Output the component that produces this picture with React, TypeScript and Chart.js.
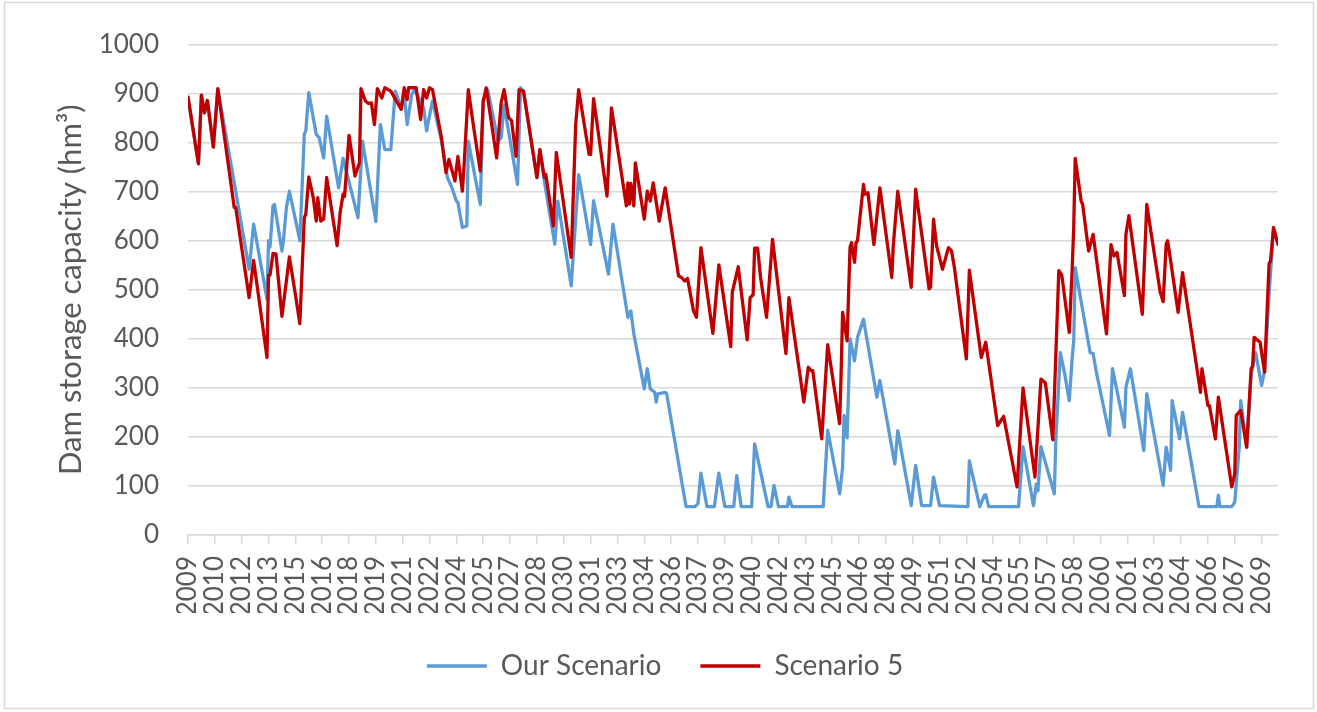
import React, { useEffect, useRef } from "react";
import { Chart, registerables } from "chart.js";

Chart.register(...registerables);

// Months counted from January 2009 (monthly series, 732 months up to Dec 2069)
const tickMonths = [0, 18, 36, 54, 72, 90, 108, 126, 144, 162, 180, 198, 216, 234, 252, 270, 288, 306, 324, 342, 360, 378, 396, 414, 432, 450, 468, 486, 504, 522, 540, 558, 576, 594, 612, 630, 648, 666, 684, 702, 720];
const tickLabels = ["2009", "2010", "2012", "2013", "2015", "2016", "2018", "2019", "2021", "2022", "2024", "2025", "2027", "2028", "2030", "2031", "2033", "2034", "2036", "2037", "2039", "2040", "2042", "2043", "2045", "2046", "2048", "2049", "2051", "2052", "2054", "2055", "2057", "2058", "2060", "2061", "2063", "2064", "2066", "2067", "2069"];

const yTicks = [0, 100, 200, 300, 400, 500, 600, 700, 800, 900, 1000];

const seriesNames = ["Our Scenario", "Scenario 5"];

const ourScenarioMonth = [0, 7, 9, 11, 13, 17, 20, 32, 41, 44, 53, 54, 55, 57, 58, 63, 64, 66, 68, 73, 75, 78, 79, 81, 86, 88, 91, 93, 101, 104, 114, 117, 126, 129, 132, 136, 139, 143, 145, 147, 150, 152, 156, 158, 160, 163, 164, 170, 174, 177, 180, 181, 184, 187, 188, 196, 198, 201, 208, 210, 212, 221, 223, 225, 234, 236, 239, 246, 248, 257, 262, 270, 272, 282, 285, 295, 297, 299, 306, 308, 310, 313, 314, 315, 320, 321, 334, 340, 342, 344, 348, 353, 356, 360, 366, 368, 371, 378, 380, 389, 391, 393, 396, 402, 403, 405, 426, 429, 437, 439, 440, 442, 444, 447, 449, 453, 462, 464, 474, 476, 485, 488, 492, 498, 500, 504, 523, 524, 531, 534, 535, 537, 557, 560, 567, 569, 570, 572, 581, 582, 585, 588, 591, 593, 594, 595, 605, 607, 609, 618, 620, 628, 629, 632, 641, 643, 654, 656, 659, 660, 665, 667, 678, 690, 691, 692, 700, 702, 705, 706, 710, 713, 716, 720, 722, 725, 728, 731];
const ourScenarioValue = [893, 757, 897, 861, 886, 791, 910, 701, 542, 634, 481, 600, 587, 671, 674, 579, 600, 668, 701, 630, 600, 817, 824, 902, 817, 810, 769, 854, 708, 768, 647, 803, 639, 837, 786, 786, 905, 870, 898, 837, 898, 908, 885, 871, 824, 871, 885, 803, 729, 708, 681, 678, 627, 630, 803, 674, 885, 908, 803, 810, 877, 715, 912, 905, 729, 786, 721, 593, 681, 508, 735, 592, 682, 532, 634, 444, 457, 410, 298, 339, 298, 291, 271, 288, 291, 288, 58, 58, 64, 126, 58, 58, 126, 58, 58, 121, 58, 58, 186, 58, 58, 101, 58, 58, 77, 58, 58, 214, 84, 138, 244, 198, 400, 355, 403, 440, 281, 315, 145, 213, 60, 142, 60, 60, 118, 60, 58, 151, 58, 81, 82, 58, 58, 180, 60, 104, 90, 180, 84, 193, 372, 328, 274, 362, 396, 545, 372, 370, 335, 203, 339, 220, 301, 339, 172, 288, 101, 179, 132, 274, 196, 250, 58, 58, 81, 58, 58, 67, 179, 274, 179, 328, 372, 305, 335, 491, 623, 593];

const scenario5Month = [0, 7, 9, 11, 13, 17, 20, 31, 32, 41, 44, 53, 54, 55, 57, 59, 63, 68, 72, 75, 78, 79, 81, 84, 86, 87, 89, 91, 93, 100, 102, 104, 105, 108, 112, 115, 116, 119, 121, 123, 125, 127, 130, 132, 136, 143, 145, 147, 148, 153, 156, 158, 160, 162, 164, 170, 173, 175, 179, 181, 184, 185, 188, 191, 196, 198, 200, 207, 210, 212, 215, 217, 220, 222, 225, 234, 236, 239, 240, 245, 247, 257, 260, 262, 269, 270, 272, 281, 284, 294, 295, 296, 297, 299, 300, 306, 308, 310, 312, 316, 320, 329, 331, 333, 335, 339, 341, 344, 352, 356, 364, 365, 369, 375, 377, 379, 380, 382, 384, 388, 392, 401, 403, 413, 416, 418, 419, 425, 429, 437, 438, 439, 442, 444, 445, 447, 448, 449, 453, 454, 456, 460, 464, 472, 473, 476, 485, 488, 497, 498, 500, 502, 506, 510, 512, 514, 522, 524, 532, 535, 543, 547, 556, 560, 568, 572, 575, 580, 584, 586, 591, 593, 594, 595, 599, 600, 604, 607, 616, 619, 621, 623, 628, 629, 631, 640, 643, 652, 654, 656, 657, 659, 664, 667, 679, 680, 684, 685, 689, 691, 700, 702, 703, 706, 710, 713, 714, 715, 719, 722, 725, 726, 728, 731];
const scenario5Value = [893, 757, 897, 861, 886, 791, 910, 668, 668, 484, 560, 362, 529, 530, 574, 573, 446, 567, 491, 431, 647, 654, 730, 688, 640, 688, 640, 644, 729, 590, 657, 695, 690, 815, 732, 759, 910, 885, 880, 881, 837, 910, 891, 912, 905, 868, 912, 888, 912, 912, 847, 908, 891, 912, 908, 810, 739, 766, 722, 772, 701, 746, 908, 843, 742, 885, 912, 769, 881, 908, 851, 845, 772, 908, 905, 729, 786, 729, 735, 630, 780, 566, 837, 908, 776, 776, 890, 691, 871, 671, 718, 675, 717, 671, 759, 644, 701, 681, 718, 640, 708, 528, 525, 518, 523, 457, 444, 586, 411, 551, 384, 495, 547, 398, 484, 490, 585, 585, 525, 444, 603, 370, 484, 271, 342, 335, 335, 196, 388, 227, 328, 454, 396, 587, 596, 556, 596, 600, 715, 695, 698, 592, 708, 525, 590, 701, 505, 705, 502, 505, 644, 590, 542, 586, 580, 545, 359, 540, 362, 393, 223, 242, 98, 300, 118, 318, 310, 194, 539, 530, 413, 545, 627, 768, 681, 674, 579, 613, 410, 592, 569, 576, 488, 613, 651, 450, 674, 495, 476, 593, 600, 559, 454, 535, 291, 339, 264, 264, 196, 281, 98, 125, 244, 254, 179, 339, 345, 403, 393, 332, 553, 559, 627, 593];

const FONT = "Lato, 'Open Sans', sans-serif";
const TEXT = "#595959";
const GRID = "#d9d9d9";

function toPoints(months: number[], values: number[]) {
  return months.map((m, i) => ({ x: m, y: values[i] }));
}

export default function App() {
  const ref = useRef<HTMLCanvasElement | null>(null);

  useEffect(() => {
    const canvas = ref.current;
    if (!canvas) return;
    const frame = {
      id: "frame",
      beforeDraw(chart: any) {
        const c = chart.ctx;
        c.save();
        c.fillStyle = "#ffffff";
        c.fillRect(0, 0, chart.width, chart.height);
        c.strokeStyle = GRID;
        c.lineWidth = 1.5;
        c.strokeRect(4.5, 2.5, 1309, 706);
        c.restore();
      },
    };
    const lineStyle = {
      borderWidth: 3.3,
      pointRadius: 0,
      tension: 0,
      borderJoinStyle: "round",
      borderCapStyle: "round",
    };
    const chart = new Chart(canvas, {
      type: "line",
      data: {
        datasets: [
          {
            label: seriesNames[0],
            data: toPoints(ourScenarioMonth, ourScenarioValue),
            borderColor: "#5B9BD5",
            backgroundColor: "#5B9BD5",
            ...lineStyle,
            order: 1,
          },
          {
            label: seriesNames[1],
            data: toPoints(scenario5Month, scenario5Value),
            borderColor: "#C00000",
            backgroundColor: "#C00000",
            ...lineStyle,
            order: 0,
          },
        ],
      },
      options: {
        responsive: false,
        animation: false,
        layout: { padding: { left: 52, right: 39, top: 43, bottom: 22 } },
        scales: {
          x: {
            type: "linear",
            min: 0,
            max: 731,
            afterBuildTicks: (s: any) => {
              s.ticks = tickMonths.map((v) => ({ value: v }));
            },
            afterFit: (s: any) => {
              s.height = 78;
            },
            ticks: {
              autoSkip: false,
              maxRotation: 90,
              minRotation: 90,
              padding: 12,
              color: TEXT,
              font: { family: FONT, size: 26 },
              callback: (_v: any, i: number) => tickLabels[i],
            },
            grid: {
              drawOnChartArea: false,
              drawTicks: true,
              tickLength: 9,
              color: GRID,
              lineWidth: 1.5,
            },
            border: { color: GRID, width: 1.5 },
          },
          y: {
            min: 0,
            max: 1000,
            afterBuildTicks: (s: any) => {
              s.ticks = yTicks.map((v) => ({ value: v }));
            },
            afterFit: (s: any) => {
              s.width = 136;
            },
            ticks: {
              padding: 29,
              color: TEXT,
              font: { family: FONT, size: 26 },
              callback: (v: any) => String(v),
            },
            grid: { color: GRID, lineWidth: 1.5, drawTicks: false },
            border: { display: false },
            title: {
              display: true,
              text: "Dam storage capacity (hm³)",
              color: TEXT,
              font: { family: FONT, size: 31 },
              padding: { top: 0, bottom: 0 },
            },
          },
        },
        plugins: {
          legend: {
            position: "bottom",
            labels: {
              usePointStyle: true,
              pointStyle: "line",
              pointStyleWidth: 60,
              padding: 39,
              color: TEXT,
              font: { family: FONT, size: 28 },
              sort: (a: any, b: any) => a.datasetIndex - b.datasetIndex,
            },
          },
          tooltip: { enabled: false },
        },
      },
      plugins: [frame],
    } as any);
    return () => chart.destroy();
  }, []);

  return (
    <div style={{ position: "fixed", left: 0, top: 0, width: 1317, height: 712 }}>
      <canvas ref={ref} width={1317} height={712} style={{ display: "block" }} />
    </div>
  );
}
